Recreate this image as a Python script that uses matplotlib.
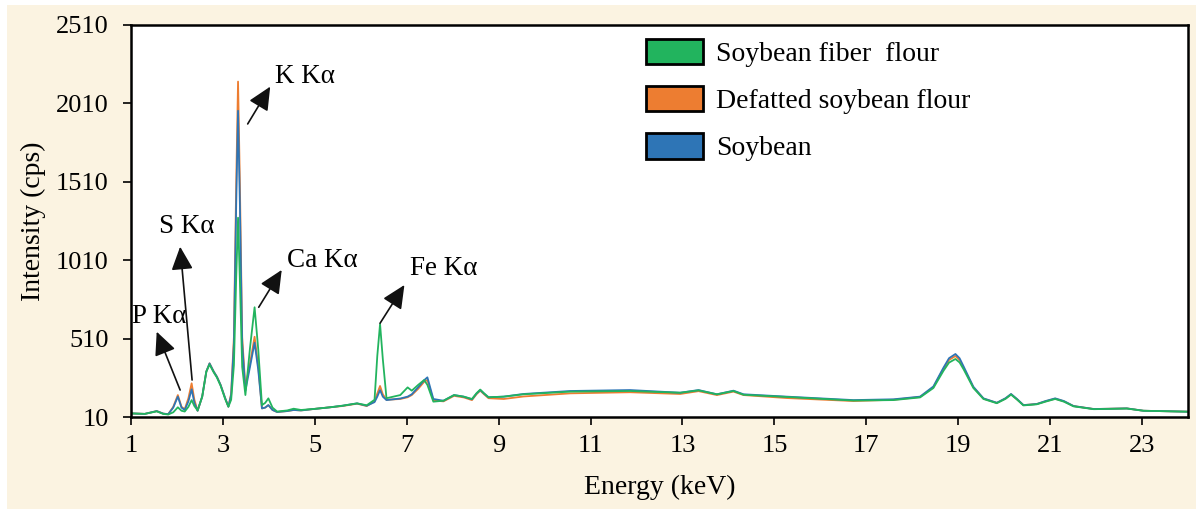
from matplotlib import pyplot as plt
from matplotlib.patches import Patch, Rectangle

# energy grid (keV) and intensities (cps) for the three samples
energy = [1.00, 1.30, 1.56, 1.70, 1.81, 1.92, 2.02, 2.10, 2.17, 2.25,
          2.32, 2.38, 2.45, 2.55, 2.64, 2.71, 2.80, 2.87, 2.95, 3.05,
          3.12, 3.18, 3.24, 3.29, 3.33, 3.37, 3.42, 3.49, 3.59, 3.69,
          3.77, 3.85, 3.92, 3.99, 4.08, 4.18, 4.40, 4.54, 4.70, 5.00,
          5.33, 5.60, 5.92, 6.13, 6.30, 6.36, 6.42, 6.48, 6.56, 6.86,
          7.02, 7.11, 7.25, 7.38, 7.45, 7.58, 7.80, 8.03, 8.24, 8.42,
          8.52, 8.60, 8.68, 8.78, 9.11, 9.54, 10.56, 11.86, 12.95, 13.35,
          13.75, 14.11, 14.33, 15.27, 16.72, 17.59, 18.17, 18.46, 18.68, 18.80,
          18.94, 19.03, 19.12, 19.33, 19.55, 19.84, 20.03, 20.15, 20.28, 20.42,
          20.71, 20.90, 21.11, 21.30, 21.51, 21.95, 22.67, 23.03, 24.00]

soybean = [33, 30, 48, 32, 28, 70, 140, 70, 55, 110,
           187, 100, 50, 140, 300, 352, 300, 267, 215, 130,
           76, 150, 480, 1370, 1963, 1370, 480, 178, 330, 484,
           310, 65, 70, 86, 55, 42, 48, 55, 52, 62,
           72, 82, 97, 82, 105, 140, 182, 140, 118, 128,
           140, 155, 200, 245, 263, 125, 114, 150, 140, 123,
           160, 182, 160, 136, 140, 157, 176, 182, 165, 182,
           155, 178, 155, 140, 118, 123, 140, 205, 325, 385,
           412, 385, 331, 203, 129, 101, 130, 157, 125, 86,
           93, 112, 129, 112, 80, 61, 65, 50, 44]

defatted = [33, 30, 48, 32, 28, 75, 150, 75, 60, 130,
            225, 120, 50, 140, 300, 352, 300, 267, 215, 130,
            76, 160, 520, 1500, 2149, 1500, 520, 200, 350, 522,
            330, 65, 70, 86, 55, 42, 48, 55, 52, 62,
            72, 80, 95, 80, 110, 160, 208, 155, 120, 125,
            136, 150, 190, 235, 246, 115, 110, 145, 135, 118,
            156, 178, 156, 130, 125, 141, 161, 168, 157, 175,
            150, 172, 150, 131, 112, 120, 138, 200, 318, 374,
            399, 374, 322, 200, 127, 100, 128, 155, 123, 86,
            93, 110, 127, 110, 80, 61, 65, 50, 44]

fiber = [33, 30, 46, 30, 26, 40, 72, 50, 45, 75,
         118, 80, 52, 140, 300, 345, 295, 262, 210, 125,
         76, 120, 340, 900, 1281, 880, 330, 150, 450, 710,
         440, 86, 100, 129, 70, 45, 52, 63, 55, 62,
         72, 82, 97, 85, 120, 400, 603, 380, 130, 150,
         199, 178, 215, 246, 215, 108, 114, 150, 140, 125,
         162, 185, 162, 136, 140, 155, 172, 176, 165, 180,
         155, 176, 152, 138, 115, 118, 135, 195, 305, 357,
         380, 358, 313, 195, 125, 98, 126, 153, 121, 84,
         91, 108, 125, 108, 78, 60, 64, 50, 44]

labels = ['Soybean fiber  flour', 'Defatted soybean flour', 'Soybean']
colors = ['#22B45E', '#ED7D31', '#2E75B6']

# peak labels: (text, text position, arrow tail, arrow tip)
peaks = [
    ('P K\u03b1', (1.02, 650), (2.07, 182), (1.56, 554)),
    ('S K\u03b1', (1.60, 1224), (2.33, 246), (2.07, 1096)),
    ('K K\u03b1', (4.14, 2180), (3.54, 1879), (4.03, 2117)),
    ('Ca K\u03b1', (4.39, 1011), (3.78, 710), (4.28, 948)),
    ('Fe K\u03b1', (7.07, 958), (6.42, 608), (6.95, 852)),
]

plt.rcParams['font.family'] = ['Liberation Serif', 'DejaVu Serif']

fig = plt.figure(figsize=(11.96, 5.09), dpi=100)
fig.patch.set_facecolor('white')
fig.patches.append(Rectangle((7 / 1196, 0), 1, 1 - 5 / 509, transform=fig.transFigure,
                             facecolor='#FBF3E1', edgecolor='none', zorder=-10))

ax = fig.add_axes([0.1095, 0.1807, 0.8838, 0.7702])
ax.set_facecolor('white')

ax.plot(energy, defatted, color=colors[1], lw=1.3)
ax.plot(energy, soybean, color=colors[2], lw=1.3)
ax.plot(energy, fiber, color=colors[0], lw=1.3)

for text, pos, tail, tip in peaks:
    ax.annotate('', xy=tip, xytext=tail,
                arrowprops=dict(arrowstyle='-|>,head_length=0.75,head_width=0.35',
                                color='#111111', lw=1.2, shrinkA=0, shrinkB=0,
                                mutation_scale=19))
    ax.text(pos[0], pos[1], text, fontsize=19.5, ha='left', va='center')

ax.set_xlim(1, 24)
ax.set_ylim(10, 2510)
ax.set_xticks(range(1, 24, 2))
ax.set_yticks(range(10, 2511, 500))
ax.tick_params(axis='both', direction='out', length=6, width=1.2, labelsize=19)
ax.tick_params(axis='x', pad=7)
ax.tick_params(axis='y', pad=10)
for s in ax.spines.values():
    s.set_linewidth(1.8)

ax.set_xlabel('Energy (keV)', fontsize=20)
ax.set_ylabel('Intensity (cps)', fontsize=20)
ax.xaxis.set_label_coords(0.5, -0.148)
ax.yaxis.set_label_coords(-0.08, 0.5)

handles = [Patch(facecolor=c, edgecolor='black', lw=2) for c in colors]
ax.legend(handles, labels, loc='upper left', bbox_to_anchor=(0.487, 0.965),
          frameon=False, fontsize=20, handlelength=2.05, handleheight=1.04,
          handletextpad=0.47, labelspacing=0.68, borderpad=0, borderaxespad=0)

fig.savefig('out.png', dpi=100)
